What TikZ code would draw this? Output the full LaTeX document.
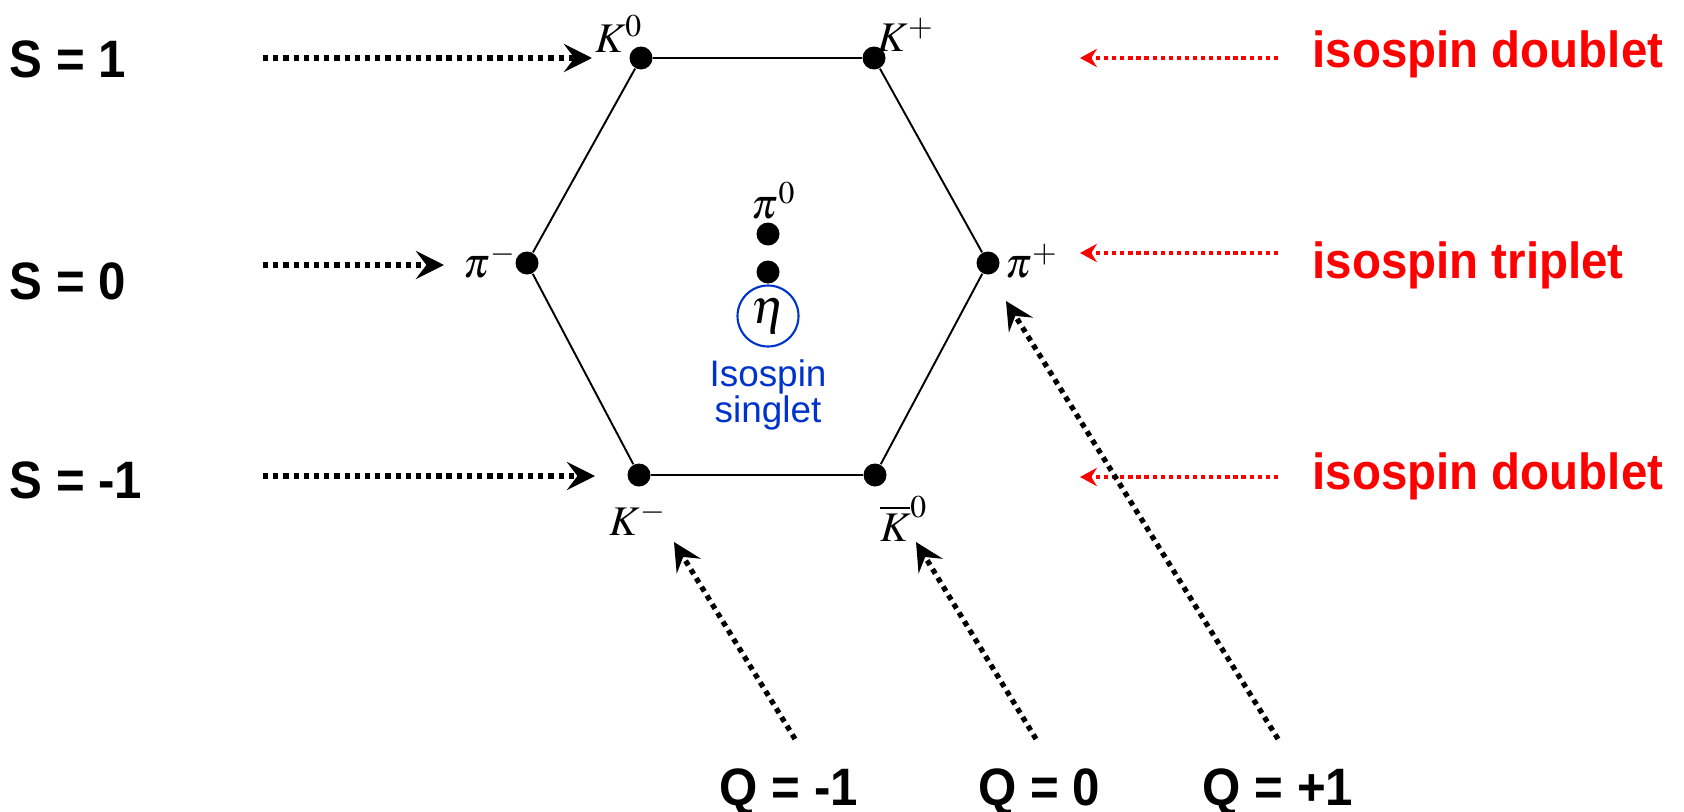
\documentclass[tikz,border=0pt]{standalone}
\usepackage{mathptmx}
\usepackage{fontspec}
\setmainfont{Liberation Serif}
\setsansfont{Liberation Sans}
\usetikzlibrary{arrows.meta}
\definecolor{singletblue}{RGB}{0,51,204}
\newcommand{\tallsf}[1]{\scalebox{1}[1.07]{#1}}

\begin{document}
\begin{tikzpicture}[
  >={Stealth[length=8pt,width=8pt,inset=3pt]},
  meson/.style={circle, fill=black, minimum size=2.3mm, inner sep=0pt},
  part/.style={inner sep=1pt, font=\fontsize{12}{14}\selectfont},
  slab/.style={anchor=west, inner sep=0pt, font=\sffamily\bfseries\fontsize{14}{16}\selectfont},
  qlab/.style={anchor=base, inner sep=0pt, font=\sffamily\bfseries\fontsize{14}{16}\selectfont},
  iso/.style={anchor=west, inner sep=0pt, text=red, font=\sffamily\bfseries\fontsize{13.5}{16}\selectfont},
  sarr/.style={->, line width=1.5pt, dash pattern=on 1.5pt off 1.4pt},
  iarr/.style={-{Stealth[length=4.8pt,width=5.2pt,inset=1.6pt]}, red, line width=1.1pt, dash pattern=on 1.2pt off 1.1pt},
]
\useasboundingbox (0,0) rectangle (16.84,-8.11);
% the six corner mesons
\node[meson] (K0)  at (6.41,-0.58) {};
\node[meson] (Kp)  at (8.74,-0.58) {};
\node[meson] (pim) at (5.27,-2.63) {};
\node[meson] (pip) at (9.88,-2.63) {};
\node[meson] (Km)  at (6.39,-4.75) {};
\node[meson] (Kb0) at (8.75,-4.75) {};
\draw[line width=0.55pt] (K0) -- (Kp) -- (pip) -- (Kb0) -- (Km) -- (pim) -- (K0);
% centre: pi0 and eta
\node[meson] (pi0) at (7.68,-2.34) {};
\node[meson] (etadot) at (7.68,-2.72) {};
\node[circle, draw=singletblue, line width=0.6pt, minimum size=6.1mm, inner sep=0pt,
  font=\fontsize{14}{16}\selectfont] (eta) at (7.68,-3.16) {$\eta$};
\node[align=center, text=singletblue, inner sep=0pt, font=\sffamily\fontsize{10.5}{10}\selectfont]
  (singlet) at (7.68,-3.95) {Isospin\\singlet};
% particle labels
\node[part] (lK0)  at (6.19,-0.34) {$K^0$};
\node[part] (lKp)  at (9.06,-0.35) {$K^+$};
\node[part] (lpim) at (4.90,-2.61) {$\pi^-$};
\node[part] (lpip) at (10.32,-2.61) {$\pi^+$};
\node[part] (lKm)  at (6.38,-5.19) {$K^-$};
\node[part] (lKb0) at (9.04,-5.19) {$\overline{K}^0$};
\node[part] (lpi0) at (7.74,-2.01) {$\pi^0$};
% strangeness rows
\node[slab] (S1)  at (0.09,-0.59) {\tallsf{S = 1}};
\node[slab] (S0)  at (0.09,-2.81) {\tallsf{S = 0}};
\node[slab] (Sm1) at (0.09,-4.80) {\tallsf{S = -1}};
\coordinate (s1a) at (2.63,-0.58);  \coordinate (s1b) at (5.92,-0.58);
\coordinate (s0a) at (2.63,-2.65);  \coordinate (s0b) at (4.44,-2.65);
\coordinate (sm1a) at (2.63,-4.76); \coordinate (sm1b) at (5.95,-4.76);
\draw[sarr] (s1a) -- (s1b);
\draw[sarr] (s0a) -- (s0b);
\draw[sarr] (sm1a) -- (sm1b);
% isospin multiplets
\node[iso] (d1) at (13.12,-0.54) {\tallsf{isospin doublet}};
\node[iso] (t1) at (13.12,-2.65) {\tallsf{isospin triplet}};
\node[iso] (d2) at (13.12,-4.76) {\tallsf{isospin doublet}};
\coordinate (i1a) at (12.78,-0.58); \coordinate (i1b) at (10.80,-0.58);
\coordinate (i0a) at (12.78,-2.53); \coordinate (i0b) at (10.80,-2.53);
\coordinate (im1a) at (12.78,-4.77); \coordinate (im1b) at (10.80,-4.77);
\draw[iarr] (i1a) -- (i1b);
\draw[iarr] (i0a) -- (i0b);
\draw[iarr] (im1a) -- (im1b);
% charge diagonals
\node[qlab] (Qm1) at (7.89,-8.05) {\tallsf{Q = -1}};
\node[qlab] (Q0)  at (10.39,-8.05) {\tallsf{Q = 0}};
\node[qlab] (Qp1) at (12.78,-8.05) {\tallsf{Q = +1}};
\coordinate (qm1a) at (7.95,-7.39);  \coordinate (qm1b) at (6.74,-5.42);
\coordinate (q0a)  at (10.36,-7.39); \coordinate (q0b)  at (9.16,-5.42);
\coordinate (qp1a) at (12.78,-7.39); \coordinate (qp1b) at (10.06,-3.01);
\draw[sarr] (qm1a) -- (qm1b);
\draw[sarr] (q0a) -- (q0b);
\draw[sarr] (qp1a) -- (qp1b);
\end{tikzpicture}
\end{document}
